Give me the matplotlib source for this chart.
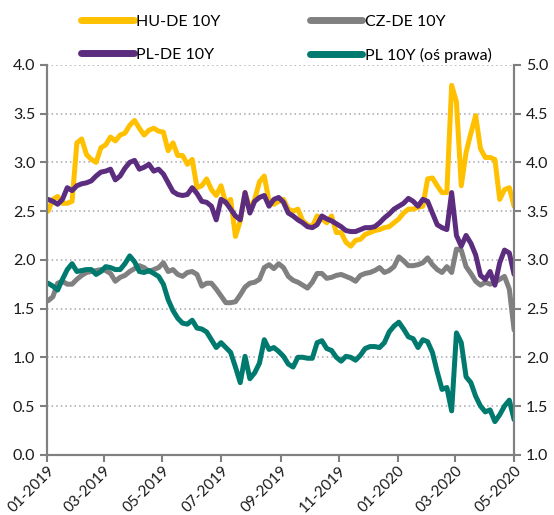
import matplotlib
matplotlib.use('Agg')
import matplotlib.pyplot as plt
import matplotlib.dates as mdates
import pandas as pd

plt.rcParams['font.family'] = ['Lato', 'DejaVu Sans']

# observation dates (every 5 days)
dates = pd.date_range('2019-01-02', periods=98, freq='5D')

hu_de = [2.50, 2.62, 2.65, 2.58, 2.58, 2.60, 3.20, 3.24, 3.08, 3.03,
         3.00, 3.15, 3.18, 3.26, 3.22, 3.28, 3.30, 3.38, 3.43, 3.35,
         3.28, 3.33, 3.35, 3.32, 3.31, 3.12, 3.20, 3.07, 3.07, 2.98,
         3.03, 2.74, 2.76, 2.83, 2.72, 2.66, 2.76, 2.58, 2.62, 2.24,
         2.40, 2.69, 2.52, 2.62, 2.80, 2.86, 2.60, 2.57, 2.60, 2.62,
         2.52, 2.50, 2.52, 2.40, 2.36, 2.34, 2.45, 2.42, 2.38, 2.45,
         2.28, 2.28, 2.18, 2.14, 2.20, 2.21, 2.26, 2.28, 2.30, 2.31,
         2.33, 2.34, 2.38, 2.42, 2.48, 2.52, 2.52, 2.54, 2.55, 2.83,
         2.84, 2.76, 2.69, 2.69, 3.79, 3.62, 2.76, 3.10, 3.30, 3.48,
         3.14, 3.05, 3.05, 3.03, 2.62, 2.72, 2.74, 2.55]

cz_de = [1.58, 1.62, 1.76, 1.78, 1.75, 1.75, 1.80, 1.84, 1.87, 1.88,
         1.89, 1.90, 1.89, 1.86, 1.78, 1.82, 1.84, 1.88, 1.91, 1.94,
         1.92, 1.88, 1.90, 1.92, 1.97, 1.88, 1.90, 1.85, 1.83, 1.87,
         1.88, 1.85, 1.73, 1.76, 1.76, 1.70, 1.63, 1.56, 1.56, 1.57,
         1.64, 1.72, 1.76, 1.77, 1.80, 1.92, 1.95, 1.91, 1.96, 1.92,
         1.83, 1.79, 1.77, 1.74, 1.71, 1.77, 1.86, 1.86, 1.81, 1.82,
         1.84, 1.85, 1.83, 1.81, 1.78, 1.84, 1.86, 1.87, 1.89, 1.92,
         1.87, 1.89, 1.93, 2.03, 1.99, 1.94, 1.94, 1.95, 1.97, 2.02,
         1.95, 1.90, 1.87, 1.93, 1.87, 2.11, 2.10, 1.93, 1.86, 1.78,
         1.74, 1.77, 1.75, 1.77, 1.80, 1.83, 1.70, 1.28]

pl_de = [2.62, 2.60, 2.57, 2.62, 2.74, 2.71, 2.76, 2.78, 2.79, 2.81,
         2.86, 2.90, 2.91, 2.93, 2.82, 2.86, 2.94, 3.00, 3.02, 2.93,
         2.95, 2.98, 2.91, 2.93, 2.88, 2.79, 2.70, 2.67, 2.66, 2.67,
         2.74, 2.68, 2.60, 2.59, 2.55, 2.41, 2.62, 2.59, 2.52, 2.45,
         2.41, 2.69, 2.48, 2.60, 2.64, 2.66, 2.55, 2.62, 2.64, 2.59,
         2.48, 2.45, 2.41, 2.38, 2.34, 2.33, 2.36, 2.45, 2.42, 2.40,
         2.37, 2.34, 2.30, 2.29, 2.29, 2.31, 2.33, 2.33, 2.34, 2.38,
         2.43, 2.47, 2.52, 2.55, 2.58, 2.63, 2.60, 2.55, 2.62, 2.60,
         2.48, 2.36, 2.33, 2.31, 2.69, 2.25, 2.14, 2.25, 2.17, 2.05,
         1.84, 1.80, 1.88, 1.74, 1.97, 2.10, 2.07, 1.85]

# PL 10Y yield, plotted on the right axis
pl_10y = [2.76, 2.73, 2.69, 2.80, 2.90, 2.96, 2.88, 2.89, 2.90, 2.90,
          2.85, 2.88, 2.93, 2.92, 2.90, 2.90, 2.96, 3.04, 2.98, 2.88,
          2.87, 2.89, 2.86, 2.83, 2.75, 2.59, 2.48, 2.40, 2.35, 2.34,
          2.38, 2.30, 2.29, 2.26, 2.18, 2.10, 2.15, 2.10, 2.05, 1.90,
          1.74, 2.01, 1.78, 1.84, 1.94, 2.18, 2.08, 2.10, 2.06, 2.01,
          1.93, 1.90, 2.00, 2.00, 1.99, 1.99, 2.15, 2.17, 2.09, 2.07,
          2.00, 1.96, 2.01, 2.00, 1.97, 2.02, 2.09, 2.11, 2.11, 2.10,
          2.15, 2.26, 2.32, 2.36, 2.29, 2.21, 2.19, 2.10, 2.18, 2.16,
          2.05, 1.85, 1.67, 1.69, 1.45, 2.25, 2.15, 1.80, 1.74, 1.60,
          1.50, 1.44, 1.46, 1.34, 1.41, 1.50, 1.56, 1.36]

left_ticks = [0.0, 0.5, 1.0, 1.5, 2.0, 2.5, 3.0, 3.5, 4.0]
right_ticks = [1.0, 1.5, 2.0, 2.5, 3.0, 3.5, 4.0, 4.5, 5.0]

fig = plt.figure(figsize=(5.54, 5.15), dpi=100)
ax = fig.add_axes([0.085, 0.117, 0.843, 0.757])
ax2 = ax.twinx()

lw = 3.6
l_hu, = ax.plot(dates, hu_de, color='#FFC000', lw=lw, label='HU-DE 10Y', solid_capstyle='round')
l_cz, = ax.plot(dates, cz_de, color='#808080', lw=lw, label='CZ-DE 10Y', solid_capstyle='round')
l_pl, = ax.plot(dates, pl_de, color='#5C2D7F', lw=lw, label='PL-DE 10Y', solid_capstyle='round')
l_10, = ax2.plot(dates, pl_10y, color='#007A6E', lw=lw, label='PL 10Y (oś prawa)', solid_capstyle='round')

ax.set_ylim(0, 4)
ax.set_yticks(left_ticks)
ax.set_yticklabels(['%.1f' % v for v in left_ticks])
ax2.set_ylim(1, 5)
ax2.set_yticks(right_ticks)
ax2.set_yticklabels(['%.1f' % v for v in right_ticks])

ax.set_xlim(pd.Timestamp('2019-01-01'), pd.Timestamp('2020-05-01'))
ax.xaxis.set_major_locator(mdates.MonthLocator(bymonth=[1, 3, 5, 7, 9, 11]))
ax.xaxis.set_major_formatter(mdates.DateFormatter('%m-%Y'))

# dotted horizontal grid
ax.grid(True, axis='y', linestyle=(0, (1, 2)), color='#A6A6B0', lw=1.1)
ax.set_axisbelow(True)

for a in (ax, ax2):
    a.spines['top'].set_visible(False)
    for s in ('left', 'right', 'bottom'):
        a.spines[s].set_color('#808080')
        a.spines[s].set_linewidth(1.5)
    a.tick_params(colors='#808080', labelcolor='#1A1A1A', labelsize=11.5,
                  length=5, width=1.5, direction='out')
ax.tick_params(axis='x', labelsize=11, pad=1)
plt.setp(ax.get_xticklabels(), rotation=45, ha='right', va='top',
         rotation_mode='anchor')

fig.legend(handles=[l_hu, l_pl, l_cz, l_10], loc='upper left',
           bbox_to_anchor=(0.12, 1.0), ncol=2, frameon=False,
           fontsize=11.5, handlelength=3.3, handletextpad=0.15,
           columnspacing=5.6, labelspacing=1.2)
for h in fig.legends[0].get_lines():
    h.set_linewidth(5)

plt.savefig('out.png', dpi=100)
